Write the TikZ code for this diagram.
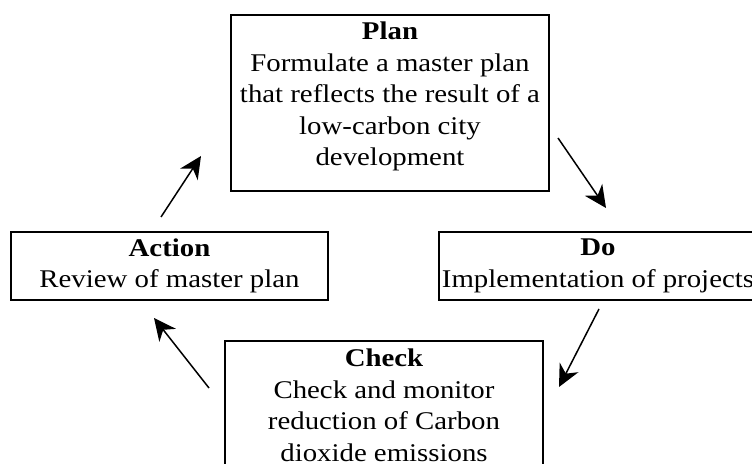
\documentclass[tikz,border=0pt]{standalone}
\usepackage{fontspec}
\setmainfont{Liberation Serif}[FakeStretch=1.13]
\usetikzlibrary{arrows.meta}
\tikzset{
  box/.style={draw=black, line width=1.4pt, inner sep=0pt},
  txt/.style={align=center, inner sep=0pt, font=\fontsize{25.5pt}{31.5pt}\selectfont},
  cyc/.style={line width=1.5pt, -{Stealth[length=22pt,width=21pt,inset=7pt]}}
}
\begin{document}
\begin{tikzpicture}[x=1pt,y=1pt]
\useasboundingbox (0,0) rectangle (752,463);
\clip (0,0) rectangle (752,463);
% boxes
\node[box, minimum width=318pt, minimum height=176pt] (plan) at (390,360) {};
\node[box, minimum width=317pt, minimum height=68pt] (action) at (169.5,197) {};
\node[box, minimum width=318pt, minimum height=68pt] (do) at (598,197) {};
\node[box, minimum width=318pt, minimum height=129pt] (check) at (384,57.5) {};
% texts
\node[txt] (plant) at (plan.center) [yshift=6.5pt] {\textbf{Plan}\\Formulate a master plan\\that reflects the result of a\\low-carbon city\\development};
\node[txt] (actiont) at (action.center) {\textbf{Action}\\Review of master plan};
\node[txt] (dot) at (do.center) {\textbf{Do}\\Implementation of projects};
\node[txt] (checkt) at (check.center) {\textbf{Check}\\Check and monitor\\reduction of Carbon\\dioxide emissions};
% arrow ends
\coordinate (a1s) at (161,246);
\coordinate (a1e) at (201,307);
\coordinate (a2s) at (558,325);
\coordinate (a2e) at (606,255);
\coordinate (a3s) at (599,154);
\coordinate (a3e) at (559,76);
\coordinate (a4s) at (209,75);
\coordinate (a4e) at (154,145);
\draw[cyc] (a1s) -- (a1e);
\draw[cyc] (a2s) -- (a2e);
\draw[cyc] (a3s) -- (a3e);
\draw[cyc] (a4s) -- (a4e);
\end{tikzpicture}
\end{document}
